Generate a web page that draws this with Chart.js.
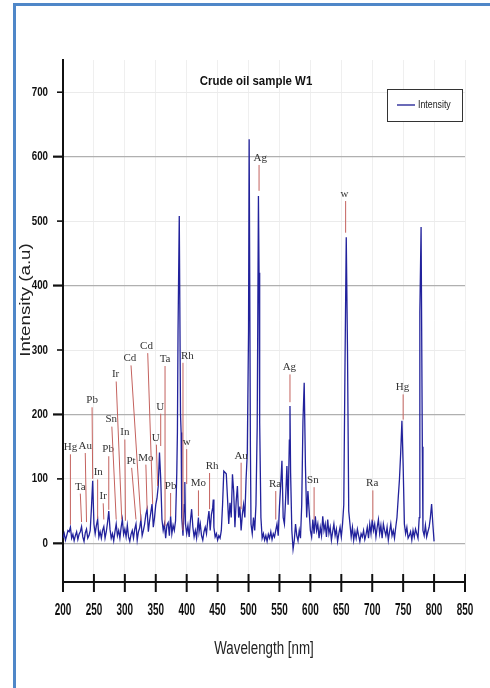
<!DOCTYPE html>
<html>
<head>
<meta charset="utf-8">
<script src="https://cdn.jsdelivr.net/npm/chart.js@4.4.1/dist/chart.umd.min.js"></script>
<style>
  html, body { margin: 0; padding: 0; background: #fff; }
  #wrap { position: relative; width: 490px; height: 688px; overflow: hidden; }
  #frame { position: absolute; left: 13px; top: 3px; width: 500px; height: 700px;
           border-left: 3px solid #4f87c8; border-top: 3px solid #4f87c8; }
  canvas { position: absolute; left: 0; top: 0; }
</style>
</head>
<body>
<div id="wrap">
  <div id="frame"></div>
  <canvas id="spectrum" width="490" height="688"></canvas>
</div>
<script>
// Spectrum data (wavelength in nm, intensity in a.u.)
const wavelength = [200,202,204,206,208,210,212,214,216,218,220,222,224,226,228,230,232,234,236,238,
  240,242,244,246,248,250,252,254,256,258,260,262,264,266,268,270,272,274,276,278,
  280,282,284,286,288,290,292,294,296,298,300,302,304,306,308,310,312,314,316,318,
  320,322,324,326,328,330,332,334,336,338,340,342,344,346,348,350,352,354,356,358,
  360,362,364,366,368,370,372,374,376,378,380,382,384,385,386,388,390,391,392,394,
  396,397,398,400,402,404,406,408,410,412,414,416,418,419,420,422,424,426,428,430,
  432,434,436,438,440,442,443,444,446,448,450,452,454,456,458,460,462,464,466,468,
  470,472,474,476,478,480,482,484,486,488,490,492,494,496,498,500,501,503,504,506,
  508,510,512,514,516,517,518,520,522,524,526,528,530,532,534,536,538,540,542,544,
  546,548,550,552,554,556,558,560,562,564,566,567,568,570,572,574,576,578,580,582,
  584,586,588,590,592,594,596,598,600,602,604,606,608,610,612,614,616,618,620,622,
  624,626,628,630,632,634,636,638,640,642,644,646,648,650,652,654,656,658,660,662,
  664,666,668,670,672,674,676,678,680,682,684,686,688,690,692,694,696,698,700,702,
  704,706,708,710,712,714,716,718,720,722,724,726,728,730,732,734,736,738,740,742,
  744,746,748,750,752,754,756,758,760,762,764,766,768,770,772,774,776,777,779,781,
  782,784,786,788,790,792,794,796,798,800];
const intensity = [8,15,5,12,20,18,25,8,14,4,12,18,6,14,18,26,10,3,16,22,
  8,12,20,55,97,30,15,28,37,10,18,8,20,26,8,18,32,50,22,8,
  15,4,18,30,12,20,8,25,37,14,22,10,28,10,3,14,20,8,22,30,
  5,18,24,37,12,20,30,45,53,18,35,48,61,25,40,60,70,89,141,100,
  37,20,30,8,28,32,12,42,15,28,20,35,110,172,330,508,200,172,40,12,
  60,95,30,15,28,10,35,53,25,10,20,8,30,40,18,30,12,5,18,25,
  15,35,50,20,45,55,68,25,10,15,5,12,8,20,60,112,110,108,70,30,
  63,40,107,80,25,65,89,40,57,20,45,60,40,99,140,330,627,150,30,15,
  40,20,60,180,539,420,188,40,8,15,5,12,3,14,8,18,6,15,10,20,
  30,12,57,90,128,40,30,70,120,60,160,213,110,20,-9,5,30,12,4,20,
  8,60,190,249,120,40,81,50,20,10,37,15,42,20,30,8,25,12,42,20,
  30,10,37,15,25,5,18,30,12,22,3,15,25,10,30,60,281,475,300,50,
  30,10,25,5,18,8,22,12,3,15,10,20,6,14,25,8,30,15,37,20,
  30,10,25,37,15,28,8,30,20,12,25,5,18,30,12,20,8,25,40,70,
  99,140,190,120,30,15,25,8,12,18,5,20,10,22,15,8,40,358,491,150,
  20,12,28,10,18,25,40,61,30,3];

// Axis ticks
const xTicks = [200,250,300,350,400,450,500,550,600,650,700,750,800,850];
const yTicks = [0,100,200,300,400,500,600,700];

// Element annotations: label, label position (nm, a.u.), line start nm, line tip (nm, a.u.)
const annLabel = ['Hg','Ta','Au','Pb','In','Ir','Pb','Sn','Ir','In','Pt','Cd','Mo','Cd','U','U','Ta','Pb','Rh','w','Mo',
  'Rh','Au','Ag','Ra','Ag','Sn','w','Ra','Hg'];
const annX    = [212,228,236,247,257,265,273,278,285,300,310,308,334,335,350,357,365,374,401,400,419,
  441,488,519,543,566,604,655,700,749];
const annY    = [149,88,151,222,110,73,146,192,262,172,128,287,133,306,164,212,286,89,291,157,93,
  120,136,598,92,273,98,542,93,242];
const annTopX = [212,228,236,247,256,265,274,279,286,300,311,310,334,337,351,358,365,374,394,400,419,
  437,488,517,544,567,606,657,701,750];
const annTipX = [212,230,238,248,256,266,274,286,295,301,318,326,336,345,353,358,365,374,394,400,419,
  437,488,517,544,567,606,657,701,750];
const annTipY = [29,33,33,100,38,37,52,37,37,35,37,35,53,61,89,151,27,42,20,92,42,
  53,53,547,37,219,37,482,35,192];

const sans = '"Liberation Sans", Arial, sans-serif';

// narrow look: draw text squeezed horizontally
function squeezed(c, text, x, y, sx) {
  c.save();
  c.translate(x, y);
  c.scale(sx, 1);
  c.fillText(text, 0, 0);
  c.restore();
}

const decorPlugin = {
  id: 'decor',
  afterDraw(chart) {
    const c = chart.ctx;
    const xs = chart.scales.x, ys = chart.scales.y;
    const area = chart.chartArea;
    c.save();

    // y ticks (major every 200 longer) and labels
    c.strokeStyle = '#111';
    c.fillStyle = '#111';
    c.font = 'bold 13px ' + sans;
    c.textAlign = 'right';
    c.textBaseline = 'middle';
    yTicks.forEach(v => {
      const py = ys.getPixelForValue(v);
      const major = v % 200 === 0;
      c.lineWidth = major ? 2.2 : 1.6;
      c.beginPath();
      c.moveTo(area.left - (major ? 10 : 6), py);
      c.lineTo(area.left + 1, py);
      c.stroke();
      squeezed(c, String(v), area.left - 15, py, 0.75);
    });
    // x ticks crossing the axis and labels
    c.lineWidth = 2;
    c.textAlign = 'center';
    c.font = 'bold 16px ' + sans;
    xTicks.forEach(v => {
      const px = xs.getPixelForValue(v);
      c.beginPath();
      c.moveTo(px, area.bottom - 8);
      c.lineTo(px, area.bottom + 10);
      c.stroke();
      squeezed(c, String(v), px, area.bottom + 29, 0.62);
    });

    // element annotations
    c.strokeStyle = '#c4625e';
    c.lineWidth = 1;
    c.font = '11px "Liberation Serif", "Times New Roman", serif';
    c.fillStyle = '#333';
    annLabel.forEach((lab, i) => {
      const lx = xs.getPixelForValue(annX[i]);
      const ly = ys.getPixelForValue(annY[i]);
      c.beginPath();
      c.moveTo(xs.getPixelForValue(annTopX[i]), ly + 7);
      c.lineTo(xs.getPixelForValue(annTipX[i]), ys.getPixelForValue(annTipY[i]));
      c.stroke();
      c.fillText(lab, lx, ly);
    });

    // title
    c.fillStyle = '#111';
    c.font = 'bold 13px ' + sans;
    squeezed(c, 'Crude oil sample W1', 256, area.top + 21, 0.88);

    // legend box
    const bx = area.right - 78, by = area.top + 29;
    c.strokeStyle = '#333';
    c.lineWidth = 1;
    c.fillStyle = '#fff';
    c.fillRect(bx, by, 75, 32);
    c.strokeRect(bx + 0.5, by + 0.5, 75, 32);
    c.strokeStyle = '#3a3aa0';
    c.lineWidth = 1.5;
    c.beginPath();
    c.moveTo(bx + 10, by + 16);
    c.lineTo(bx + 28, by + 16);
    c.stroke();
    c.fillStyle = '#222';
    c.font = '11px ' + sans;
    c.textAlign = 'left';
    squeezed(c, 'Intensity', bx + 31, by + 16, 0.8);

    // axis titles
    c.fillStyle = '#222';
    c.textAlign = 'center';
    c.font = '18px ' + sans;
    squeezed(c, 'Wavelength [nm]', 264, 649, 0.74);
    c.translate(26, 300);
    c.rotate(-Math.PI / 2);
    c.font = '15px ' + sans;
    squeezed(c, 'Intensity (a.u)', 0, 0, 1.25);
    c.restore();
  }
};

const points = wavelength.map((w, i) => ({ x: w, y: intensity[i] }));

new Chart(document.getElementById('spectrum'), {
  type: 'line',
  data: {
    datasets: [{
      label: 'Intensity',
      data: points,
      borderColor: '#22229c',
      borderWidth: 1.3,
      pointRadius: 0,
      tension: 0,
      fill: false
    }]
  },
  options: {
    responsive: false,
    animation: false,
    events: [],
    layout: { padding: { left: 18, right: 25, top: 60, bottom: 0 } },
    plugins: {
      legend: { display: false },
      title: { display: false },
      tooltip: { enabled: false }
    },
    scales: {
      x: {
        type: 'linear',
        min: 200,
        max: 850,
        afterBuildTicks: axis => { axis.ticks = xTicks.map(v => ({ value: v })); },
        afterFit: axis => { axis.height = 106; },
        ticks: { display: false },
        grid: { color: '#efefef', lineWidth: 1, drawTicks: false },
        border: { display: true, color: '#111', width: 2 }
      },
      y: {
        min: -60,
        max: 750,
        afterBuildTicks: axis => { axis.ticks = yTicks.map(v => ({ value: v })); },
        afterFit: axis => { axis.width = 45; },
        ticks: { display: false },
        grid: {
          drawTicks: false,
          color: ctx => (ctx.tick && ctx.tick.value % 200 === 0) ? '#b0b0b0' : '#ebebeb',
          lineWidth: ctx => (ctx.tick && ctx.tick.value % 200 === 0) ? 1.3 : 1
        },
        border: { display: true, color: '#111', width: 2 }
      }
    }
  },
  plugins: [decorPlugin]
});
</script>
</body>
</html>
